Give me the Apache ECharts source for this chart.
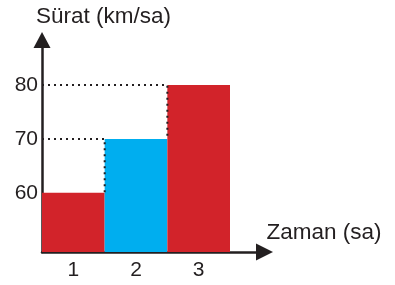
<!DOCTYPE html>
<html><head><meta charset="utf-8">
<script src="https://cdn.jsdelivr.net/npm/echarts@6/dist/echarts.min.js"></script>
<style>html,body{margin:0;padding:0;background:#fff}#c{width:395px;height:285px}</style>
</head><body><div id="c"></div>
<script>
const categories = ['1', '2', '3'];
const speeds = [60, 70, 80];
const barColors = ['#d2232a', '#00aeef', '#d2232a'];
const yTickValues = [60, 70, 80];
const yTitle = 'Sürat (km/sa)';
const xTitle = 'Zaman (sa)';
// dotted guide lines: [category boundary, value]
const guide80 = [[0, 80], [2, 80], [2, 70]];
const guide70 = [[0, 70], [1, 70], [1, 60]];

const ink = '#231f20';
const font = 'Liberation Sans, Arial, sans-serif';
const yMin = 49, yMax = 88.36;

const chart = echarts.init(document.getElementById('c'), null, {renderer: 'canvas'});
chart.setOption({
  animation: false,
  grid: [
    {left: 42, top: 40, bottom: 33, width: 188},
    {left: 42, top: 40, bottom: 33, width: 222.5}
  ],
  xAxis: [
    {gridIndex: 0, type: 'category', data: categories,
     axisLine: {show: false}, axisTick: {show: false},
     axisLabel: {color: ink, fontFamily: font, fontSize: 21, margin: 8}},
    {gridIndex: 1, type: 'value', min: 0, max: 3.55,
     axisLine: {show: true, lineStyle: {color: ink, width: 2.5}, symbol: ['none', 'triangle'], symbolSize: [17, 17]},
     axisTick: {show: false}, axisLabel: {show: false}, splitLine: {show: false},
     name: xTitle, nameLocation: 'end', nameGap: 2,
     nameTextStyle: {color: ink, fontFamily: font, fontSize: 22.5, align: 'left', verticalAlign: 'bottom', padding: [0, 0, 8, 0]}}
  ],
  yAxis: [
    {gridIndex: 0, type: 'value', min: yMin, max: yMax,
     axisLine: {show: true, lineStyle: {color: ink, width: 2.5}, symbol: ['none', 'triangle'], symbolSize: [17, 16]},
     axisTick: {show: false}, splitLine: {show: false},
     axisLabel: {customValues: yTickValues, color: ink, fontFamily: font, fontSize: 21, margin: 4},
     name: yTitle, nameLocation: 'end', nameGap: 12,
     nameTextStyle: {color: ink, fontFamily: font, fontSize: 22.5, align: 'left', verticalAlign: 'bottom', padding: [0, 0, 0, -6]}},
    {gridIndex: 1, type: 'value', min: yMin, max: yMax, show: false}
  ],
  series: [
    {type: 'bar', xAxisIndex: 0, yAxisIndex: 0, barCategoryGap: 0,
     data: speeds.map((v, i) => ({value: v, itemStyle: {color: barColors[i]}}))},
    {type: 'line', xAxisIndex: 1, yAxisIndex: 1, data: guide80, symbol: 'none', z: 3,
     lineStyle: {color: ink, width: 2, type: [2, 4]}},
    {type: 'line', xAxisIndex: 1, yAxisIndex: 1, data: guide70, symbol: 'none', z: 3,
     lineStyle: {color: ink, width: 2, type: [2, 4]}}
  ]
});
</script></body></html>
